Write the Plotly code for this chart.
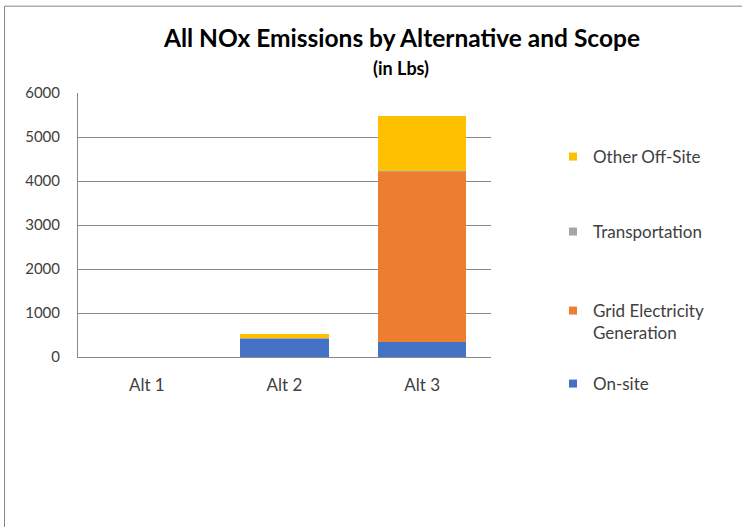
import plotly.graph_objects as go

categories = ["Alt 1", "Alt 2", "Alt 3"]
on_site = [0, 415, 330]
grid_electricity = [0, 5, 3880]
transportation = [0, 15, 20]
other_off_site = [0, 90, 1250]

series = [
    ("On-site", on_site, "#4472C4"),
    ("Grid Electricity<br>Generation", grid_electricity, "#ED7D31"),
    ("Transportation", transportation, "#A5A5A5"),
    ("Other Off-Site", other_off_site, "#FFC000"),
]

y_ticks = [0, 1000, 2000, 3000, 4000, 5000, 6000]

FONT = "Lato"
W, H = 742, 527
L, R, T, B = 78, 251, 92.5, 170

fig = go.Figure()
for name, vals, color in series:
    fig.add_trace(go.Bar(x=categories, y=vals, name=name, marker=dict(color=color, line=dict(width=0)),
                         showlegend=False))

legend_pos = {
    "Other Off-Site": ("legend", 157, "middle"),
    "Transportation": ("legend2", 232, "middle"),
    "Grid Electricity<br>Generation": ("legend3", 293, "top"),
    "On-site": ("legend4", 384, "middle"),
}
layout_legends = {}
for name, vals, color in series:
    lg, ypx, anchor = legend_pos[name]
    fig.add_trace(go.Scatter(x=[None], y=[None], mode="markers", name=name, legend=lg,
                             marker=dict(symbol="square", size=8, color=color)))
    layout_legends[lg] = dict(xref="container", yref="container", x=553 / W, y=1 - ypx / H,
                              xanchor="left", yanchor=anchor, valign="top",
                              bgcolor="rgba(0,0,0,0)",
                              font=dict(family=FONT, size=17, color="#404040"))

def px_x(px):
    return (px - L) / (W - L - R)

def px_y(py):
    return (H - B - py) / (H - T - B)

fig.update_layout(
    width=W, height=H,
    margin=dict(l=L, r=R, t=T, b=B),
    barmode="stack", bargap=0.357,
    plot_bgcolor="white", paper_bgcolor="white",
    font=dict(family=FONT, size=15, color="#404040"),
    **layout_legends,
    xaxis=dict(showline=True, linecolor="#888888", linewidth=1, ticks="",
               ticklabelstandoff=13, tickfont=dict(family=FONT, size=17, color="#404040")),
    yaxis=dict(range=[0, 6000], tickvals=y_ticks, showgrid=True, gridcolor="#888888", gridwidth=1,
               showline=True, linecolor="#888888", linewidth=1, zeroline=False, ticks="",
               ticklabelstandoff=14, tickfont=dict(family=FONT, size=15, color="#404040")),
    annotations=[
        dict(text="<b>All NOx Emissions by Alternative and Scope</b>", xref="paper", yref="paper",
             x=px_x(401), y=px_y(37), xanchor="center", yanchor="middle", showarrow=False,
             font=dict(family=FONT, size=24.5, color="#000000")),
        dict(text="<b>(in Lbs)</b>", xref="paper", yref="paper",
             x=px_x(401), y=px_y(67), xanchor="center", yanchor="middle", showarrow=False,
             font=dict(family=FONT, size=18, color="#000000")),
    ],
    shapes=[
        dict(type="line", xref="paper", yref="paper", x0=px_x(4.5), x1=px_x(4.5), y0=px_y(5.5), y1=px_y(540),
             line=dict(color="#888888", width=1)),
        dict(type="line", xref="paper", yref="paper", x0=px_x(4.5), x1=px_x(760), y0=px_y(5.5), y1=px_y(5.5),
             line=dict(color="#888888", width=1)),
    ],
)

fig.write_html("out.html")
